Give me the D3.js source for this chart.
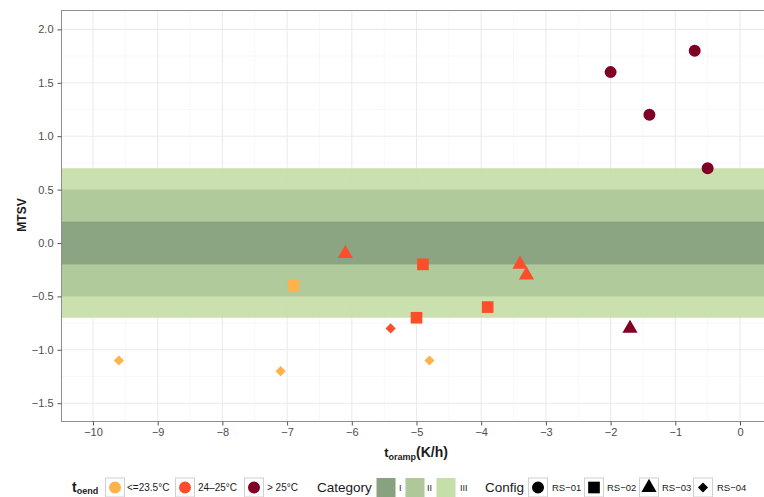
<!DOCTYPE html>
<html>
<head>
<meta charset="utf-8">
<script src="https://cdn.jsdelivr.net/npm/d3@7/dist/d3.min.js"></script>
<style>
  html, body { margin: 0; padding: 0; background: #fff; }
  svg { display: block; font-family: "Liberation Sans", Arial, Helvetica, sans-serif; }
</style>
</head>
<body>
<svg id="chart" width="764" height="497"></svg>
<script>
// Observations: cooling ramp rate (K/h), mean thermal sensation vote, end temperature class, configuration
const rampRate = [-2.0, -0.7, -1.4, -0.5, -6.1, -3.4, -3.3, -1.7, -6.9, -4.9, -5.0, -3.9, -9.6, -7.1, -4.8, -5.4];
const mtsv     = [ 1.6,  1.8,  1.2,  0.7, -0.1, -0.2, -0.3, -0.8, -0.4, -0.2, -0.7, -0.6, -1.1, -1.2, -1.1, -0.8];
const endTemp  = ["> 25°C", "> 25°C", "> 25°C", "> 25°C",
                  "24–25°C", "24–25°C", "24–25°C", "> 25°C",
                  "<=23.5°C", "24–25°C", "24–25°C", "24–25°C",
                  "<=23.5°C", "<=23.5°C", "<=23.5°C", "24–25°C"];
const config   = ["RS−01", "RS−01", "RS−01", "RS−01",
                  "RS−03", "RS−03", "RS−03", "RS−03",
                  "RS−02", "RS−02", "RS−02", "RS−02",
                  "RS−04", "RS−04", "RS−04", "RS−04"];

// Comfort category bands (symmetric around neutral)
const categories = ["I", "II", "III"];
const categoryLimit = [0.2, 0.5, 0.7];

const tempClasses = ["<=23.5°C", "24–25°C", "> 25°C"];
const tempColors  = ["#feb24c", "#fc4e2a", "#800026"];
const configs     = ["RS−01", "RS−02", "RS−03", "RS−04"];
const catColors   = ["#88a17f", "#aec89a", "#c6dfa9"];

const xTicks = [-10, -9, -8, -7, -6, -5, -4, -3, -2, -1, 0];
const yTicks = [-1.5, -1.0, -0.5, 0.0, 0.5, 1.0, 1.5, 2.0];

const svg = d3.select("#chart");
const panel = { left: 61, top: 10, right: 770, bottom: 421 };

const x = d3.scaleLinear().domain([-10, 0]).range([93, 740]);
const y = d3.scaleLinear().domain([-1.5, 2]).range([403.2, 29.4]);

const color = d3.scaleOrdinal().domain(tempClasses).range(tempColors);
const diamond = { draw(ctx, size) { const r = Math.sqrt(size) / 2 * Math.SQRT2; ctx.moveTo(0, -r); ctx.lineTo(r, 0); ctx.lineTo(0, r); ctx.lineTo(-r, 0); ctx.closePath(); } };
const shapeType = d3.scaleOrdinal().domain(configs).range([d3.symbolCircle, d3.symbolSquare, d3.symbolTriangle, diamond]);
const shapeSize = d3.scaleOrdinal().domain(configs).range([113, 136, 100, 52]);
const symbolPath = c => d3.symbol().type(shapeType(c)).size(shapeSize(c))();

// Panel background
svg.append("rect")
  .attr("x", panel.left).attr("y", panel.top)
  .attr("width", panel.right - panel.left).attr("height", panel.bottom - panel.top)
  .attr("fill", "#fff");

const clip = svg.append("defs").append("clipPath").attr("id", "panelClip")
  .append("rect")
  .attr("x", panel.left).attr("y", panel.top)
  .attr("width", panel.right - panel.left).attr("height", panel.bottom - panel.top);

const plot = svg.append("g").attr("clip-path", "url(#panelClip)");

// Grid: minor then major
const xMinor = d3.range(-10.5, 1, 1);
const yMinor = d3.range(-1.75, 2.5, 0.5);
plot.append("g").selectAll("line.xm").data(xMinor).join("line")
  .attr("x1", d => x(d)).attr("x2", d => x(d))
  .attr("y1", panel.top).attr("y2", panel.bottom)
  .attr("stroke", "#f4f4f4").attr("stroke-width", 0.6);
plot.append("g").selectAll("line.ym").data(yMinor).join("line")
  .attr("y1", d => y(d)).attr("y2", d => y(d))
  .attr("x1", panel.left).attr("x2", panel.right)
  .attr("stroke", "#f4f4f4").attr("stroke-width", 0.6);
plot.append("g").selectAll("line.xM").data(xTicks).join("line")
  .attr("x1", d => x(d)).attr("x2", d => x(d))
  .attr("y1", panel.top).attr("y2", panel.bottom)
  .attr("stroke", "#ebebeb").attr("stroke-width", 1.1);
plot.append("g").selectAll("line.yM").data(yTicks).join("line")
  .attr("y1", d => y(d)).attr("y2", d => y(d))
  .attr("x1", panel.left).attr("x2", panel.right)
  .attr("stroke", "#ebebeb").attr("stroke-width", 1.1);

// Category bands, widest first
const bandData = categories.map((c, i) => ({ c, lim: categoryLimit[i], col: catColors[i] })).reverse();
plot.append("g").selectAll("rect").data(bandData).join("rect")
  .attr("x", panel.left).attr("width", panel.right - panel.left)
  .attr("y", d => y(d.lim)).attr("height", d => y(-d.lim) - y(d.lim))
  .attr("fill", d => d.col).attr("fill-opacity", 0.93);

// Points
const pts = rampRate.map((r, i) => ({ r, v: mtsv[i], t: endTemp[i], c: config[i] }));
plot.append("g").selectAll("path").data(pts).join("path")
  .attr("transform", d => `translate(${x(d.r)},${y(d.v)})`)
  .attr("d", d => symbolPath(d.c))
  .attr("fill", d => color(d.t));

// Panel border
svg.append("rect")
  .attr("x", panel.left + 0.5).attr("y", panel.top + 0.5)
  .attr("width", panel.right - panel.left).attr("height", panel.bottom - panel.top)
  .attr("fill", "none").attr("stroke", "#8f8f8f").attr("stroke-width", 1);

// Axes
const xAxis = svg.append("g").attr("transform", `translate(0,${panel.bottom + 0.5})`)
  .call(d3.axisBottom(x).tickValues(xTicks).tickSize(4).tickPadding(3)
    .tickFormat(d => d3.format("d")(d).replace("-", "−")));
const yAxis = svg.append("g").attr("transform", `translate(${panel.left + 0.5},0)`)
  .call(d3.axisLeft(y).tickValues(yTicks).tickSize(4).tickPadding(4)
    .tickFormat(d => d3.format(".1f")(d).replace("-", "−")));
[xAxis, yAxis].forEach(a => {
  a.select(".domain").remove();
  a.selectAll(".tick line").attr("stroke", "#555");
  a.selectAll(".tick text").attr("fill", "#4d4d4d").attr("font-size", 11)
    .attr("font-family", "'Liberation Sans', Arial, sans-serif");
});

// Axis titles
const xt = svg.append("text").attr("x", 416).attr("y", 457).attr("text-anchor", "middle")
  .attr("font-weight", "bold").attr("fill", "#1a1a1a").attr("font-size", 13);
xt.append("tspan").text("t");
xt.append("tspan").attr("font-size", 9).attr("dy", 3).text("oramp");
xt.append("tspan").attr("dy", -3).attr("font-size", 14).text("(K/h)");

svg.append("text")
  .attr("transform", "translate(26,215) rotate(-90)")
  .attr("text-anchor", "middle")
  .attr("font-weight", "bold").attr("font-size", 12).attr("fill", "#1a1a1a")
  .text("MTSV");

// Legend
const legY = 487, box = 19;
const leg = svg.append("g");
const lt = leg.append("text").attr("x", 72).attr("y", legY + 5).attr("font-weight", "bold").attr("fill", "#1a1a1a");
lt.append("tspan").attr("font-size", 14).text("t");
lt.append("tspan").attr("font-size", 9).attr("dy", 2).text("oend");

function keyBox(g, bx, fill, stroke) {
  g.append("rect").attr("x", bx + 0.5).attr("y", legY - box / 2 + 0.5)
    .attr("width", box).attr("height", box)
    .attr("fill", fill).attr("stroke", stroke);
}
function keyLabel(g, lx, txt, size) {
  g.append("text").attr("x", lx).attr("y", legY + 4)
    .attr("font-size", size || 10).attr("fill", "#1a1a1a").text(txt);
}

const tempBoxX = [105, 175, 244], tempLabX = [127, 198, 267];
tempClasses.forEach((t, i) => {
  keyBox(leg, tempBoxX[i], "#fff", "#d0d0d0");
  leg.append("path").attr("transform", `translate(${tempBoxX[i] + box / 2 + 0.5},${legY + 0.5})`)
    .attr("d", d3.symbol().type(d3.symbolCircle).size(113)()).attr("fill", color(t));
  keyLabel(leg, tempLabX[i], t);
});

leg.append("text").attr("x", 317).attr("y", legY + 5).attr("font-size", 13.5).attr("fill", "#1a1a1a").text("Category");
const catBoxX = [376, 405, 436], catLabX = [399, 427, 460];
categories.forEach((c, i) => {
  keyBox(leg, catBoxX[i], catColors[i], "none");
  keyLabel(leg, catLabX[i], c, 9);
});

leg.append("text").attr("x", 485).attr("y", legY + 5).attr("font-size", 13.5).attr("fill", "#1a1a1a").text("Config");
const cfgBoxX = [528, 584, 639, 693], cfgLabX = [552, 607, 662, 717];
configs.forEach((c, i) => {
  keyBox(leg, cfgBoxX[i], "#fff", "#d0d0d0");
  leg.append("path").attr("transform", `translate(${cfgBoxX[i] + box / 2 + 0.5},${legY + 0.5})`)
    .attr("d", symbolPath(c)).attr("fill", "#000");
  keyLabel(leg, cfgLabX[i], c, 9.5);
});
</script>
</body>
</html>
